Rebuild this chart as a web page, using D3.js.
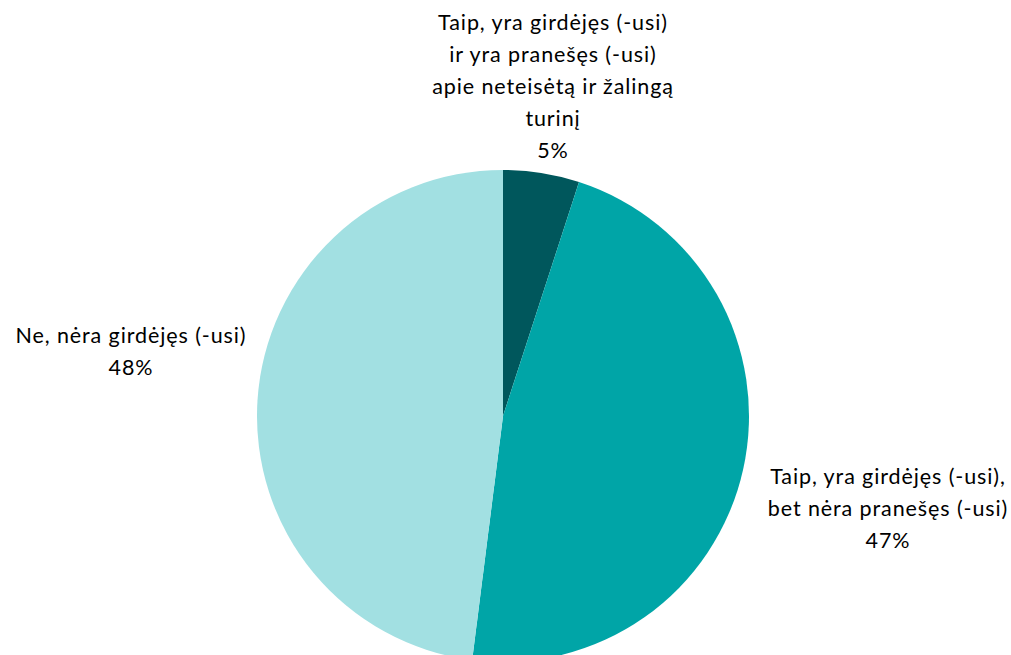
<!DOCTYPE html>
<html><head><meta charset="utf-8">
<script src="https://cdn.jsdelivr.net/npm/d3@7"></script>
<style>body{margin:0;background:#fff}svg{display:block}</style>
</head><body>
<svg id="c" width="1011" height="655"></svg>
<script>
const categories = [
  "Taip, yra girdėjęs (-usi) ir yra pranešęs (-usi) apie neteisėtą ir žalingą turinį",
  "Taip, yra girdėjęs (-usi), bet nėra pranešęs (-usi)",
  "Ne, nėra girdėjęs (-usi)"
];
const values = [5, 47, 48];
const labelLines = [
  ["Taip, yra girdėjęs (-usi)", "ir yra pranešęs (-usi)", "apie neteisėtą ir žalingą", "turinį", "5%"],
  ["Taip, yra girdėjęs (-usi),", "bet nėra pranešęs (-usi)", "47%"],
  ["Ne, nėra girdėjęs (-usi)", "48%"]
];
const colors = ["#00575c", "#00a5a7", "#a2e0e2"];

const svg = d3.select("#c");
const cx = 503, cy = 416, r = 246;
const pie = d3.pie().sort(null).value(d => d)(values);
const arc = d3.arc().innerRadius(0).outerRadius(r);
const g = svg.append("g").attr("transform", `translate(${cx},${cy})`);
g.selectAll("path").data(pie).join("path")
  .attr("d", arc).attr("fill", (d,i) => colors[i]);

const labelPos = [[553, 22], [888, 476], [131, 335]];
const lh = 32;
labelLines.forEach((lines, i) => {
  const t = svg.append("text")
    .attr("x", labelPos[i][0]).attr("y", labelPos[i][1])
    .attr("text-anchor", "middle")
    .attr("font-family", "Lato, 'Open Sans', sans-serif")
    .attr("font-size", 21.5).attr("letter-spacing", 0.9).attr("fill", "#000");
  lines.forEach((l, j) => {
    t.append("tspan").attr("x", labelPos[i][0]).attr("y", labelPos[i][1] + j*lh)
      .attr("dominant-baseline", "central").text(l);
  });
});
</script>
</body></html>
